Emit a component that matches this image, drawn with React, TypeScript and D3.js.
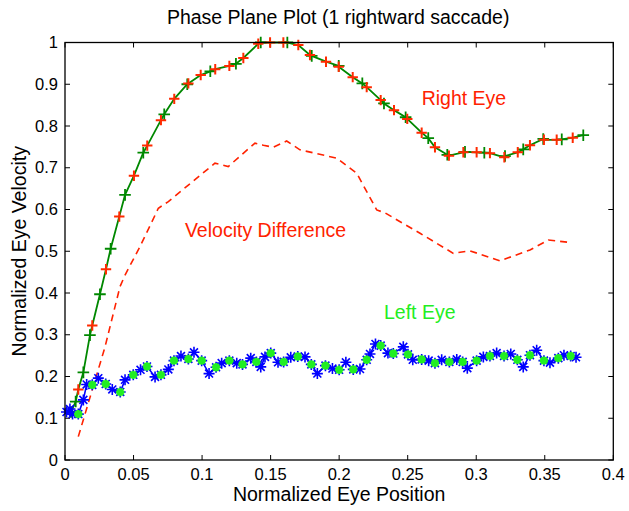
import React from 'react';
import * as d3 from 'd3';

const W = 629;
const H = 511;

const xTickValues = [0, 0.05, 0.1, 0.15, 0.2, 0.25, 0.3, 0.35, 0.4];
const yTickValues = [0, 0.1, 0.2, 0.3, 0.4, 0.5, 0.6, 0.7, 0.8, 0.9, 1];

const titleText = 'Phase Plane Plot (1 rightward saccade)';
const xLabelText = 'Normalized Eye Position';
const yLabelText = 'Normalized Eye Velocity';

// Right eye: samples with green '+' markers
const rightEyeGreen: [number, number][] = [
  [0.0044, 0.115], [0.0078, 0.140], [0.0134, 0.210], [0.0182, 0.299], [0.0255, 0.397],
  [0.0333, 0.506], [0.0438, 0.635], [0.0571, 0.736], [0.0724, 0.828], [0.0892, 0.900],
  [0.1060, 0.931], [0.1247, 0.949], [0.1428, 1.0], [0.1622, 1.0], [0.1800, 0.968],
  [0.1997, 0.944], [0.2169, 0.902], [0.2327, 0.854], [0.2485, 0.821], [0.2650, 0.771],
  [0.2789, 0.731], [0.2918, 0.738], [0.3059, 0.736], [0.3210, 0.728], [0.3343, 0.744],
  [0.3489, 0.769], [0.3624, 0.768], [0.3781, 0.778],
];

// Right eye: samples with red '+' markers
const rightEyeRed: [number, number][] = [
  [0.0097, 0.169], [0.0199, 0.322], [0.0299, 0.457], [0.0396, 0.583], [0.0503, 0.681],
  [0.0600, 0.753], [0.0700, 0.814], [0.0797, 0.865], [0.0900, 0.902], [0.0990, 0.922],
  [0.1096, 0.936], [0.1199, 0.944], [0.1301, 0.963], [0.1410, 0.997], [0.1496, 1.0],
  [0.1593, 1.0], [0.1702, 0.994], [0.1787, 0.970], [0.1904, 0.954], [0.1997, 0.942],
  [0.2099, 0.917], [0.2201, 0.893], [0.2303, 0.862], [0.2400, 0.838], [0.2497, 0.817],
  [0.2602, 0.784], [0.2699, 0.749], [0.2801, 0.729], [0.2906, 0.737], [0.3003, 0.737],
  [0.3100, 0.735], [0.3205, 0.725], [0.3303, 0.737], [0.3392, 0.754], [0.3494, 0.767],
  [0.3587, 0.767], [0.3704, 0.772],
];

// Velocity difference (dashed red)
const velocityDifference: [number, number][] = [
  [0.0097, 0.056], [0.0292, 0.271], [0.0401, 0.415], [0.0438, 0.443], [0.0547, 0.511],
  [0.0681, 0.603], [0.0754, 0.619], [0.1094, 0.711], [0.1191, 0.703], [0.1386, 0.759],
  [0.1447, 0.754], [0.1520, 0.749], [0.1617, 0.764], [0.1714, 0.743], [0.1982, 0.723],
  [0.2128, 0.687], [0.2274, 0.599], [0.2334, 0.592], [0.2590, 0.543], [0.2833, 0.495],
  [0.2955, 0.501], [0.3173, 0.477], [0.3392, 0.503], [0.3526, 0.527], [0.3684, 0.521],
];

// Left eye: samples with blue '*' markers
const leftEyeBlue: [number, number][] = [
  [0.0011, 0.115], [0.0036, 0.122], [0.0055, 0.110], [0.0134, 0.144], [0.0158, 0.181],
  [0.0243, 0.196], [0.0345, 0.169], [0.0438, 0.192], [0.0551, 0.216], [0.0657, 0.199],
  [0.0754, 0.217], [0.0846, 0.249], [0.0941, 0.258], [0.1051, 0.207], [0.1143, 0.232],
  [0.1253, 0.232], [0.1355, 0.244], [0.1428, 0.223], [0.1459, 0.247], [0.1554, 0.234],
  [0.1647, 0.246], [0.1751, 0.247], [0.1841, 0.207], [0.1951, 0.219], [0.2049, 0.234],
  [0.2152, 0.218], [0.2225, 0.254], [0.2265, 0.278], [0.2356, 0.256], [0.2468, 0.271],
  [0.2537, 0.240], [0.2653, 0.238], [0.2748, 0.240], [0.2858, 0.241], [0.2935, 0.220],
  [0.3052, 0.247], [0.3149, 0.256], [0.3252, 0.254], [0.3343, 0.223], [0.3441, 0.263],
  [0.3538, 0.233], [0.3640, 0.251], [0.3728, 0.246],
];

// Left eye: samples with green '*' markers
const leftEyeGreen: [number, number][] = [
  [0.0097, 0.110], [0.0199, 0.180], [0.0297, 0.182], [0.0403, 0.163], [0.0498, 0.204],
  [0.0598, 0.224], [0.0700, 0.204], [0.0795, 0.238], [0.0900, 0.242], [0.0997, 0.238],
  [0.1102, 0.222], [0.1199, 0.238], [0.1295, 0.229], [0.1396, 0.235], [0.1501, 0.256],
  [0.1595, 0.235], [0.1698, 0.248], [0.1797, 0.229], [0.1900, 0.226], [0.2000, 0.216],
  [0.2103, 0.217], [0.2201, 0.240], [0.2303, 0.274], [0.2395, 0.255], [0.2502, 0.253],
  [0.2602, 0.241], [0.2699, 0.232], [0.2804, 0.235], [0.2901, 0.235], [0.3003, 0.238],
  [0.3100, 0.249], [0.3203, 0.249], [0.3300, 0.240], [0.3392, 0.251], [0.3494, 0.238],
  [0.3599, 0.244], [0.3689, 0.249],
];

const annotationLabels = ['Right Eye', 'Velocity Difference', 'Left Eye'];
const annotationX = [0.2602, 0.0875, 0.2327];
const annotationY = [0.850, 0.535, 0.338];
const annotationColors = ['#ff2200', '#ff2200', '#22ee22'];

const FONT = '"Liberation Sans", Arial, Helvetica, sans-serif';

const plusPath = (s: number) => `M${-s},0H${s}M0,${-s}V${s}`;
const starPath = (s: number) => {
  const d = s * 0.72;
  return `M${-s},0H${s}M0,${-s}V${s}M${-d},${-d}L${d},${d}M${-d},${d}L${d},${-d}`;
};

export default function App() {
  const left = 65;
  const right = 613.3;
  const top = 42.5;
  const bottom = 460;

  const x = d3.scaleLinear().domain([0, 0.4]).range([left, right]);
  const y = d3.scaleLinear().domain([0, 1]).range([bottom, top]);

  const line = d3
    .line<[number, number]>()
    .x((d) => x(d[0]))
    .y((d) => y(d[1]));

  const rightEyeAll = [...rightEyeGreen, ...rightEyeRed].sort((a, b) => a[0] - b[0]);
  const leftEyeAll = [...leftEyeBlue, ...leftEyeGreen].sort((a, b) => a[0] - b[0]);

  const tickLen = 5;
  const fmtX = (v: number) => (v === 0 ? '0' : String(+v.toFixed(2)));
  const fmtY = (v: number) => (v === 0 ? '0' : String(+v.toFixed(1)));

  return (
    <svg
      width={W}
      height={H}
      style={{ position: 'absolute', left: 0, top: 0, background: '#fff' }}
      fontFamily={FONT}
    >
      <rect x={0} y={0} width={W} height={H} fill="#fff" />
      <defs>
        <clipPath id="plotClip">
          <rect x={left - 8} y={top - 8} width={right - left + 16} height={bottom - top + 16} />
        </clipPath>
      </defs>

      {/* ticks */}
      <g stroke="#000" strokeWidth={1}>
        {xTickValues.map((v) => (
          <g key={'xt' + v}>
            <line x1={x(v)} x2={x(v)} y1={bottom} y2={bottom - tickLen} />
            <line x1={x(v)} x2={x(v)} y1={top} y2={top + tickLen} />
          </g>
        ))}
        {yTickValues.map((v) => (
          <g key={'yt' + v}>
            <line x1={left} x2={left + tickLen} y1={y(v)} y2={y(v)} />
            <line x1={right} x2={right - tickLen} y1={y(v)} y2={y(v)} />
          </g>
        ))}
      </g>

      {/* tick labels */}
      <g fontSize={16.5} fill="#000">
        {xTickValues.map((v) => (
          <text key={'xl' + v} x={x(v)} y={bottom + 20} textAnchor="middle">
            {fmtX(v)}
          </text>
        ))}
        {yTickValues.map((v) => (
          <text key={'yl' + v} x={left - 7} y={y(v) + 5.7} textAnchor="end">
            {fmtY(v)}
          </text>
        ))}
      </g>

      <g clipPath="url(#plotClip)">
        {/* velocity difference */}
        <path
          d={line(velocityDifference) || ''}
          fill="none"
          stroke="#ff2200"
          strokeWidth={1.6}
          strokeDasharray="7,5"
        />

        {/* right eye */}
        <path d={line(rightEyeAll) || ''} fill="none" stroke="#008800" strokeWidth={1.8} />
        {rightEyeGreen.map((d, i) => (
          <path
            key={'rg' + i}
            d={plusPath(5.8)}
            transform={`translate(${x(d[0])},${y(d[1])})`}
            stroke="#008800"
            strokeWidth={1.8}
            fill="none"
          />
        ))}
        {rightEyeRed.map((d, i) => (
          <path
            key={'rr' + i}
            d={plusPath(5.2)}
            transform={`translate(${x(d[0])},${y(d[1])})`}
            stroke="#ff2a00"
            strokeWidth={2}
            fill="none"
          />
        ))}

        {/* left eye */}
        <path d={line(leftEyeAll) || ''} fill="none" stroke="#0000ff" strokeWidth={1.6} />
        {leftEyeAll.map((d, i) => (
          <path
            key={'lb' + i}
            d={starPath(5.5)}
            transform={`translate(${x(d[0])},${y(d[1])})`}
            stroke="#0000ff"
            strokeWidth={1.6}
            fill="none"
          />
        ))}
        {leftEyeGreen.map((d, i) => (
          <path
            key={'lg' + i}
            d={starPath(4.2)}
            transform={`translate(${x(d[0])},${y(d[1])})`}
            stroke="#22ee22"
            strokeWidth={2.6}
            fill="none"
          />
        ))}
      </g>

      {/* box */}
      <rect
        x={left}
        y={top}
        width={right - left}
        height={bottom - top}
        fill="none"
        stroke="#000"
        strokeWidth={1.3}
      />

      {/* annotations */}
      {annotationLabels.map((t, i) => (
        <text
          key={'an' + i}
          x={x(annotationX[i])}
          y={y(annotationY[i])}
          fontSize={19.5}
          fill={annotationColors[i]}
        >
          {t}
        </text>
      ))}

      {/* title & labels */}
      <text x={(left + right) / 2 - 1} y={24} textAnchor="middle" fontSize={19.5} fill="#000">
        {titleText}
      </text>
      <text x={(left + right) / 2} y={501} textAnchor="middle" fontSize={19.5} fill="#000">
        {xLabelText}
      </text>
      <text
        transform={`translate(26,${(top + bottom) / 2}) rotate(-90)`}
        textAnchor="middle"
        fontSize={19.5}
        fill="#000"
      >
        {yLabelText}
      </text>
    </svg>
  );
}
